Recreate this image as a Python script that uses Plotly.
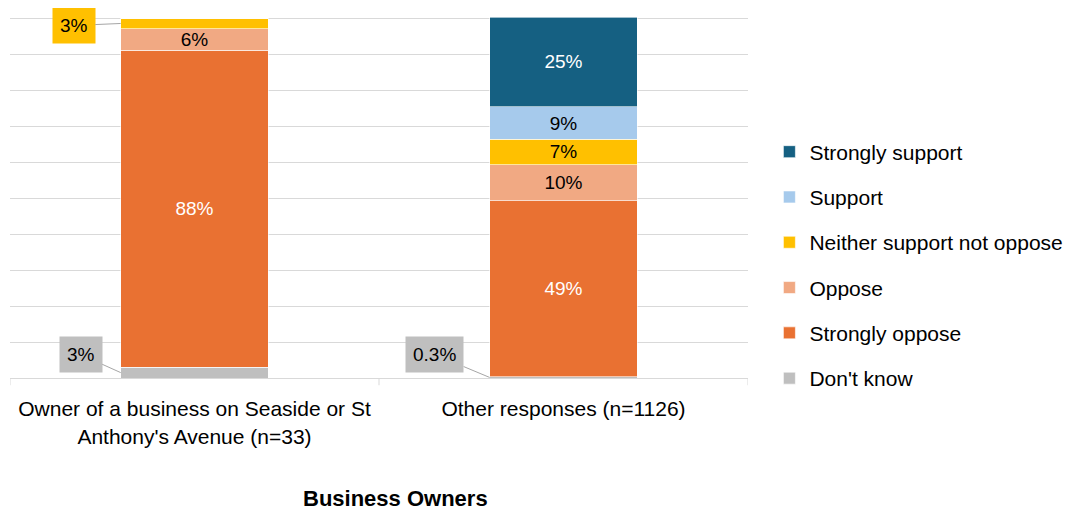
import plotly.graph_objects as go

categories = ["Owner of a business on Seaside or St<br>Anthony's Avenue (n=33)", "Other responses (n=1126)"]
series_names = ["Don't know", "Strongly oppose", "Oppose", "Neither support not oppose", "Support", "Strongly support"]
dont_know = [3, 0.3]
strongly_oppose = [88, 49]
oppose = [6, 10]
neither = [3, 7]
support = [0, 9]
strongly_support = [0, 25]
label_dont_know = ["3%", "0.3%"]
label_strongly_oppose = ["88%", "49%"]
label_oppose = ["6%", "10%"]
label_neither = ["3%", "7%"]
label_support = ["", "9%"]
label_strongly_support = ["", "25%"]

colors = ["#BFBFBF", "#E97132", "#F1A983", "#FFC000", "#A6CAEC", "#156082"]
text_colors = ["#000000", "#FFFFFF", "#000000", "#000000", "#000000", "#FFFFFF"]

values = [dont_know, strongly_oppose, oppose, neither, support, strongly_support]
labels = [label_dont_know, label_strongly_oppose, label_oppose, label_neither, label_support, label_strongly_support]

# labels drawn as callouts instead of inside bars
callouts = {(0, 0), (1, 0), (0, 3)}

FONT = "Liberation Sans, Arial"

fig = go.Figure()
n_series = len(series_names)
for si, (name, vals, labs) in enumerate(zip(series_names, values, labels)):
    inside = [("" if (ci, si) in callouts else labs[ci]) for ci in range(len(categories))]
    fig.add_trace(go.Bar(
        x=list(range(len(categories))), y=vals, name=name,
        marker=dict(color=colors[si], line=dict(color="white", width=0.6)),
        text=inside, textposition="inside", insidetextanchor="middle", constraintext="none",
        textfont=dict(family=FONT, size=19, color=text_colors[si]),
        legendgroup=name, legendrank=n_series - si, hoverinfo="skip",
    ))

bar_half = 0.2
ann = []
for (ci, si), (dx, dy) in {(0, 3): (-47, 2), (0, 0): (-40, -18), (1, 0): (-55, -23)}.items():
    base = sum(values[k][ci] for k in range(si))
    ymid = base + values[si][ci] / 2
    ann.append(dict(
        x=ci - bar_half, y=ymid, xref="x", yref="y",
        text=labels[si][ci], showarrow=True, arrowhead=0, arrowwidth=1, arrowcolor="#A6A6A6",
        ax=dx, ay=dy, bgcolor=colors[si], borderpad=7,
        font=dict(family=FONT, size=19, color="#000000"),
    ))

# plot area in figure pixels: left 2, right 740 (page body has an 8px margin)
ann.append(dict(x=(395 - 10) / 738, y=-0.335, xref="paper", yref="paper", text="<b>Business Owners</b>",
                xanchor="center", yanchor="middle",
                showarrow=False, font=dict(family="Liberation Sans Narrow, Liberation Sans", size=22, color="#000000")))

fig.update_layout(
    barmode="stack", bargap=0.6,
    width=1063, height=503,
    margin=dict(l=2, r=323, t=9, b=133, autoexpand=False),
    paper_bgcolor="white", plot_bgcolor="white",
    xaxis=dict(tickmode="array", tickvals=list(range(len(categories))), ticktext=categories,
               range=[-0.5, len(categories) - 0.5], automargin=False,
               showline=True, linecolor="#D9D9D9", linewidth=1,
               tickfont=dict(family=FONT, size=21, color="#000000"),
               ticks="", showgrid=False, ticklabelstandoff=12),
    yaxis=dict(range=[0, 100.3], tickvals=list(range(10, 101, 10)), showgrid=True, gridcolor="#D9D9D9", gridwidth=1,
               showticklabels=False, zeroline=False, automargin=False),
    legend=dict(x=1.029, xanchor="left", y=0.313, yanchor="middle", traceorder="grouped",
                tracegroupgap=15, font=dict(family=FONT, size=21, color="#000000"),
                itemwidth=30),
    annotations=ann,
    font=dict(family=FONT),
    showlegend=True,
)

for xb in [-0.5, 0.5, 1.5]:
    fig.add_shape(type="line", xref="x", yref="paper", x0=xb, x1=xb, y0=0, y1=-0.02,
                  line=dict(color="#D9D9D9", width=1))

fig.write_html("out.html")
